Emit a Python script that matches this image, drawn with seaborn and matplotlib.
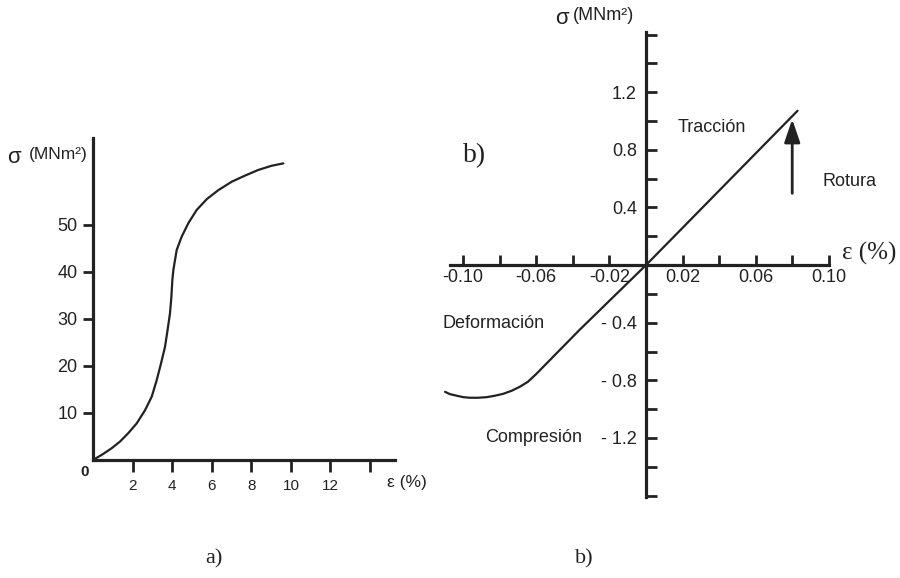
import numpy as np
import pandas as pd
import matplotlib
matplotlib.use("Agg")
import matplotlib.pyplot as plt
import seaborn as sns

# --- a) tensile curve: strain (%) vs stress (MN m^-2)
strain_a = [0.0, 0.52, 0.94, 1.36, 1.78, 2.21, 2.63, 2.97, 3.22, 3.44, 3.64, 3.77,
            3.89, 3.96, 4.01, 4.06, 4.23, 4.48, 4.82, 5.24, 5.75, 6.33, 7.01,
            7.68, 8.35, 9.03, 9.62]
stress_a = [0.0, 1.3, 2.5, 3.9, 5.7, 7.8, 10.6, 13.5, 17.0, 20.6, 24.1, 27.7,
            31.2, 34.7, 38.3, 40.4, 44.7, 47.5, 50.4, 53.2, 55.5, 57.4, 59.2,
            60.5, 61.7, 62.6, 63.1]
xticks_a = [2, 4, 6, 8, 10, 12, 14]
xlabels_a = ["2", "4", "6", "8", "10", "12", ""]
yticks_a = [10, 20, 30, 40, 50]
ylabels_a = ["10", "20", "30", "40", "50"]

# --- b) tension / compression curve
strain_b = [-0.1098, -0.1071, -0.1034, -0.0998, -0.0962, -0.0917, -0.0871,
            -0.0826, -0.0781, -0.0735, -0.0690, -0.0645, -0.0599, -0.0364,
            0.0, 0.0828]
stress_b = [-0.880, -0.896, -0.907, -0.917, -0.921, -0.921, -0.917,
            -0.907, -0.894, -0.873, -0.845, -0.810, -0.755, -0.451,
            0.0, 1.071]
xticks_b = [-0.10, -0.08, -0.06, -0.04, -0.02, 0.02, 0.04, 0.06, 0.08, 0.10]
xlabels_b = ["-0.10", "", "-0.06", "", "-0.02", "0.02", "", "0.06", "", "0.10"]
yticks_b = [-1.6, -1.4, -1.2, -1.0, -0.8, -0.6, -0.4, -0.2,
            0.2, 0.4, 0.6, 0.8, 1.0, 1.2, 1.4, 1.6]
ylabels_b = ["", "", "- 1.2", "", "- 0.8", "", "- 0.4", "",
             "", "0.4", "", "0.8", "", "1.2", "", ""]
rupture_strain = 0.0799
rupture_arrow = [0.498, 1.012]

sns.set_theme(style="white")
plt.rcParams["font.family"] = ["Liberation Sans", "DejaVu Sans"]
INK = "#222222"
SERIF = ["Liberation Serif", "DejaVu Serif"]

W, H = 900, 578
fig = plt.figure(figsize=(W / 100, H / 100), dpi=100, facecolor="white")


def box(left, top, right, bottom):
    return [left / W, 1 - bottom / H, (right - left) / W, (bottom - top) / H]


def ftext(x, y, s, **kw):
    kw.setdefault("color", INK)
    kw.setdefault("va", "center")
    fig.text(x / W, 1 - y / H, s, **kw)


# ---------------- panel a ----------------
ax1 = fig.add_axes(box(93, 138, 395, 460))
df_a = pd.DataFrame({"strain": strain_a, "stress": stress_a})
sns.lineplot(data=df_a, x="strain", y="stress", ax=ax1, color=INK,
             linewidth=1.6, estimator=None, sort=False)
ax1.set_xlim(0, 15.26)
ax1.set_ylim(0, 68.5)
for s in ["top", "right"]:
    ax1.spines[s].set_visible(False)
for s in ["left", "bottom"]:
    ax1.spines[s].set_linewidth(2.3)
    ax1.spines[s].set_color(INK)
ax1.set_xticks(xticks_a, xlabels_a)
ax1.set_yticks(yticks_a, ylabels_a)
ax1.tick_params(axis="y", direction="out", length=7.5, width=2, pad=3.5,
                labelsize=13, colors=INK, left=True)
ax1.tick_params(axis="x", direction="out", length=8.6, width=2, pad=5,
                labelsize=11, colors=INK, bottom=True)
ax1.set_xlabel("")
ax1.set_ylabel("")
ax1.patch.set_alpha(0)

ftext(85, 472, "0", fontsize=11, ha="center", fontweight="bold")
ftext(387, 483, "ε (%)", fontsize=12.5, ha="left")
ftext(7, 157, "σ", fontsize=16, ha="left")
ftext(29, 155, "(MNm²)", fontsize=12.5, ha="left")

# ---------------- panel b ----------------
ax2 = fig.add_axes(box(450, 32, 829, 497))
df_b = pd.DataFrame({"strain": strain_b, "stress": stress_b})
sns.lineplot(data=df_b, x="strain", y="stress", ax=ax2, color=INK,
             linewidth=1.6, estimator=None, sort=False)
for ln in ax2.get_lines():
    ln.set_clip_on(False)
ax2.set_xlim(-0.1071, 0.0989)
ax2.set_ylim(-1.61, 1.618)
for s in ["top", "right"]:
    ax2.spines[s].set_visible(False)
for s in ["left", "bottom"]:
    ax2.spines[s].set_position(("data", 0))
    ax2.spines[s].set_linewidth(2.3)
    ax2.spines[s].set_color(INK)
ax2.set_xticks(xticks_b, xlabels_b)
ax2.set_yticks(yticks_b, ylabels_b)
ax2.tick_params(axis="y", direction="in", length=8, width=2, pad=6.5,
                labelsize=13, colors=INK, left=True)
ax2.tick_params(axis="x", direction="in", length=7, width=2, pad=3,
                labelsize=13, colors=INK, bottom=True)
ax2.set_xlabel("")
ax2.set_ylabel("")
ax2.patch.set_alpha(0)

ax2.annotate("", xy=(rupture_strain, rupture_arrow[1]),
             xytext=(rupture_strain, rupture_arrow[0]),
             arrowprops=dict(arrowstyle="-|>,head_length=14,head_width=4.8",
                             mutation_scale=1, lw=2, color=INK,
                             shrinkA=0, shrinkB=0))

ftext(555, 18, "σ", fontsize=16, ha="left")
ftext(573, 16, "(MNm²)", fontsize=13, ha="left")
ftext(678, 127, "Tracción", fontsize=13, ha="left")
ftext(823, 182, "Rotura", fontsize=13, ha="left")
ftext(443, 323, "Deformación", fontsize=13, ha="left")
ftext(485, 437, "Compresión", fontsize=13, ha="left")
ftext(842, 253, "ε (%)", fontsize=18, ha="left", family=SERIF)
ftext(463, 156, "b)", fontsize=20, ha="left", family=SERIF)

# captions
ftext(214, 559, "a)", fontsize=16, ha="center", family=SERIF)
ftext(584, 559, "b)", fontsize=16, ha="center", family=SERIF)

fig.savefig("out.png", dpi=100, facecolor="white")
